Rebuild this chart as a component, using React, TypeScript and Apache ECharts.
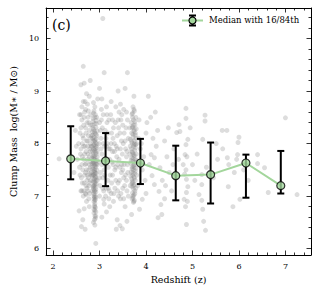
import React, { useEffect, useRef } from "react";
import * as echarts from "echarts";

// Scatter of clumps: [redshift, log mass]
const clumpsColA: number[][] = [
  [2.88,8.62],[2.91,8.55],[2.86,8.48],[2.93,8.44],[2.89,8.38],[2.84,8.35],[2.92,8.31],[2.87,8.27],[2.95,8.24],[2.9,8.2],
  [2.85,8.16],[2.88,8.12],[2.93,8.09],[2.86,8.05],[2.91,8.02],[2.89,7.98],[2.84,7.95],[2.94,7.93],[2.87,7.9],[2.9,7.86],
  [2.92,7.83],[2.86,7.8],[2.89,7.77],[2.95,7.75],[2.83,7.72],[2.88,7.7],[2.91,7.67],[2.86,7.64],[2.93,7.61],[2.89,7.58],
  [2.85,7.55],[2.9,7.52],[2.94,7.5],[2.87,7.47],[2.91,7.44],[2.88,7.41],[2.84,7.38],[2.92,7.35],[2.89,7.32],[2.86,7.29],
  [2.9,7.26],[2.93,7.23],[2.88,7.2],[2.91,7.17],[2.87,7.14],[2.89,7.11],[2.92,7.08],[2.88,7.05],[2.9,7.02],[2.89,6.98],
  [2.91,6.94],[2.88,6.9],[2.9,6.86],[2.89,6.82],[2.91,6.78],[2.9,6.73],[2.88,6.68],[2.92,6.62],[2.89,6.55],[2.87,6.5],
  [2.91,6.58],[2.86,8.42],[2.94,8.15],[2.85,7.85],[2.95,7.6],[2.83,7.4],[2.95,7.3],[2.84,7.1],[2.9,8.7],[2.87,8.78],
  [2.92,7.95],[2.88,7.62],[2.9,7.45],[2.86,7.18],[2.92,6.98],[2.89,8.05],[2.87,7.72],[2.91,7.38],[2.88,7.0],[2.9,6.92],
  [2.87,8.58],[2.9,8.5],[2.93,8.38],[2.86,8.3],[2.89,8.23],[2.92,8.18],[2.85,8.1],[2.9,8.07],[2.94,8.0],[2.87,7.97],
  [2.91,7.91],[2.88,7.88],[2.93,7.8],[2.86,7.76],[2.9,7.73],[2.94,7.68],[2.87,7.65],[2.9,7.6],[2.92,7.56],[2.86,7.52],
  [2.89,7.49],[2.93,7.43],[2.86,7.4],[2.9,7.36],[2.92,7.3],[2.88,7.27],[2.9,7.22],[2.87,7.19],[2.92,7.13],[2.89,7.09],
  [2.88,6.95],[2.9,6.8],[2.92,6.7],[2.88,6.75],[2.9,6.62],[2.9,6.45],[2.94,8.5],[2.85,8.22],[2.95,7.85],[2.84,7.62]
];
const clumpsColB: number[][] = [
  [3.72,8.7],[3.75,8.62],[3.7,8.56],[3.78,8.5],[3.73,8.45],[3.68,8.4],[3.76,8.36],[3.71,8.32],[3.79,8.28],[3.74,8.24],
  [3.69,8.2],[3.77,8.16],[3.72,8.12],[3.66,8.08],[3.75,8.05],[3.7,8.01],[3.78,7.98],[3.73,7.94],[3.68,7.9],[3.76,7.87],
  [3.71,7.83],[3.79,7.8],[3.74,7.76],[3.69,7.73],[3.77,7.7],[3.72,7.66],[3.67,7.63],[3.75,7.6],[3.7,7.56],[3.78,7.53],
  [3.73,7.5],[3.68,7.46],[3.76,7.43],[3.71,7.4],[3.74,7.36],[3.69,7.33],[3.77,7.3],[3.72,7.26],[3.75,7.22],[3.7,7.18],
  [3.73,7.14],[3.76,7.1],[3.71,7.06],[3.74,7.02],[3.72,6.97],[3.75,6.92],[3.73,6.88],[3.74,8.9],[3.71,8.58],[3.77,8.2],
  [3.66,7.95],[3.79,7.68],[3.67,7.38],[3.78,7.15],[3.7,6.95],[3.75,8.0],[3.72,7.8],[3.74,7.55],[3.7,7.28],[3.73,8.35],
  [3.74,8.65],[3.71,8.5],[3.76,8.42],[3.7,8.3],[3.75,8.27],[3.72,8.18],[3.78,8.1],[3.69,8.04],[3.74,7.97],[3.77,7.92],
  [3.7,7.85],[3.75,7.78],[3.72,7.72],[3.68,7.68],[3.76,7.64],[3.73,7.58],[3.7,7.52],[3.77,7.48],[3.72,7.44],[3.75,7.34],
  [3.7,7.24],[3.73,7.2],[3.76,7.05],[3.72,7.0],[3.74,6.9],[3.65,8.3],[3.8,8.0],[3.65,7.8],[3.8,7.4],[3.66,7.2]
];
const clumpsLowZ: number[][] = [
  [2.58,8.2],[2.62,8.45],[2.65,8.1],[2.68,8.6],[2.7,8.3],[2.72,8.05],[2.75,8.5],[2.78,8.25],[2.8,8.0],[2.6,7.9],
  [2.63,7.75],[2.66,7.95],[2.69,7.6],[2.71,7.85],[2.74,7.7],[2.77,7.5],[2.79,7.9],[2.81,7.65],[2.57,7.55],[2.61,7.35],
  [2.64,7.5],[2.67,7.25],[2.7,7.45],[2.73,7.15],[2.76,7.35],[2.79,7.05],[2.81,7.3],[2.6,7.1],[2.65,7.0],[2.72,6.9],
  [2.78,6.8],[2.8,7.55],[2.76,8.15],[2.73,8.4],[2.69,8.8],[2.66,8.35],[2.62,8.7],[2.75,7.95],[2.78,7.75],[2.55,8.0],
  [2.52,7.7],[2.68,7.8],[2.74,7.4],[2.8,8.35],[2.63,8.0],[2.7,7.05],[2.77,7.2],[2.82,7.95],[2.82,8.15],[2.57,8.55],
  [2.67,9.15],[2.6,9.12],[2.65,9.47],[2.8,9.2],[2.72,8.95],[2.78,8.9],[2.64,6.55],[2.56,6.72],[2.67,6.76],[2.69,6.37],
  [2.61,6.42],[2.71,7.03],[2.62,7.1],[2.13,7.71],[2.45,7.45],[2.5,7.95],[2.48,8.25],[2.76,8.62],[2.71,7.62],[2.79,7.42],
  [2.6,8.3],[2.64,8.15],[2.67,8.5],[2.71,8.2],[2.74,8.05],[2.77,8.4],[2.81,8.1],[2.59,7.8],[2.62,7.6],[2.66,7.7],
  [2.69,7.95],[2.72,7.5],[2.75,7.8],[2.78,7.6],[2.8,7.85],[2.58,7.4],[2.63,7.25],[2.68,7.4],[2.71,7.2],[2.75,7.1],
  [2.79,7.25],[2.66,7.1],[2.73,7.3],[2.77,6.95],[2.82,7.45],[2.7,8.65],[2.65,8.8],[2.74,8.75],[2.6,8.55],[2.81,8.55]
];
const clumpsMidZ: number[][] = [
  [3.0,8.4],[3.03,8.1],[3.05,7.8],[3.08,8.55],[3.1,7.5],[3.12,8.25],[3.15,7.95],[3.18,7.3],[3.2,8.45],[3.22,7.7],
  [3.25,8.0],[3.28,7.4],[3.3,8.3],[3.32,7.85],[3.35,7.55],[3.38,8.15],[3.4,7.25],[3.42,8.6],[3.45,7.9],[3.48,7.6],
  [3.5,8.35],[3.52,7.35],[3.55,8.05],[3.58,7.75],[3.6,8.45],[3.61,7.45],[2.98,7.65],[3.01,7.2],[3.04,8.65],[3.07,7.35],
  [3.11,7.95],[3.14,7.15],[3.17,8.0],[3.21,7.1],[3.24,8.55],[3.27,7.65],[3.31,7.05],[3.34,8.4],[3.37,7.75],[3.41,7.0],
  [3.44,8.2],[3.47,7.45],[3.51,8.0],[3.54,7.2],[3.57,8.3],[3.6,7.6],[2.99,8.0],[3.02,7.45],[3.06,8.3],[3.09,7.1],
  [3.13,7.7],[3.16,8.4],[3.19,7.55],[3.23,7.9],[3.26,7.25],[3.29,8.1],[3.33,7.5],[3.36,7.95],[3.39,7.6],[3.43,7.3],
  [3.46,8.45],[3.49,7.8],[3.53,7.6],[3.56,7.9],[3.59,7.1],[3.0,7.0],[3.1,6.85],[3.15,6.7],[3.09,6.94],[3.3,6.9],
  [3.38,6.55],[3.44,6.44],[3.36,6.37],[3.49,6.38],[3.59,6.52],[3.55,6.8],[3.45,6.95],[3.22,6.8],[3.05,8.85],[3.0,9.05],
  [3.1,9.35],[3.07,10.38],[3.4,9.0],[3.55,9.05],[3.6,9.35],[3.25,8.8],[3.45,8.75],[3.15,8.7],[3.35,8.7],[3.52,8.65],
  [2.92,6.1],[2.96,8.85],[3.2,6.95],[3.05,6.6],[3.18,8.2],[3.28,7.85],[3.42,7.7],[3.12,7.6],[3.5,7.15],[3.03,7.9],
  [3.02,8.25],[3.05,7.6],[3.08,8.0],[3.11,7.4],[3.14,8.1],[3.17,7.7],[3.2,7.9],[3.23,7.4],[3.26,8.2],[3.29,7.6],
  [3.32,8.0],[3.35,7.3],[3.38,7.9],[3.41,8.3],[3.44,7.55],[3.47,8.05],[3.5,7.5],[3.53,8.2],[3.56,7.4],[3.59,7.85],
  [3.62,8.1],[3.0,7.35],[3.07,7.15],[3.13,7.0],[3.19,7.15],[3.25,7.05],[3.33,7.15],[3.39,7.1],[3.46,7.05],[3.52,6.95],
  [3.58,7.3],[3.62,7.0],[3.04,8.45],[3.16,8.55],[3.28,8.45],[3.4,8.45],[3.48,8.55],[3.58,8.6]
];
const clumpsHighZ: number[][] = [
  [3.85,8.45],[3.9,8.0],[3.95,7.75],[4.0,8.2],[4.05,8.9],[3.92,7.5],[4.07,7.6],[4.11,7.79],[4.18,7.73],[4.13,7.39],
  [4.18,7.22],[4.28,7.09],[4.32,6.84],[4.34,6.65],[4.26,6.59],[3.86,6.75],[3.92,6.94],[3.69,6.65],[3.82,7.2],[3.88,7.9],
  [4.02,8.4],[4.15,8.1],[4.22,7.95],[4.3,7.54],[4.35,7.3],[4.4,8.05],[4.45,7.75],[4.5,7.45],[4.55,7.1],[4.4,6.95],
  [4.25,8.25],[4.1,8.5],[3.84,8.1],[3.98,7.3],[4.48,8.3],[4.6,7.9],[4.2,8.6],[4.0,7.05],[4.58,7.6],[4.42,7.2],
  [4.86,8.67],[4.86,8.48],[5.27,8.54],[5.27,8.43],[4.71,8.36],[4.66,8.21],[4.73,8.23],[4.9,8.08],[4.86,7.98],[5.22,8.08],
  [5.64,8.25],[5.74,8.25],[6.0,8.12],[5.98,8.02],[5.51,8.0],[4.84,7.79],[4.88,7.75],[4.8,7.6],[4.86,7.5],[4.83,7.42],
  [4.87,7.32],[4.9,7.18],[4.87,7.07],[4.82,6.94],[4.85,6.8],[4.87,6.46],[5.2,6.92],[5.22,6.75],[5.24,6.52],[5.28,6.35],
  [5.54,7.7],[5.75,7.73],[5.78,7.6],[5.97,7.79],[5.95,7.7],[6.4,7.79],[6.4,7.62],[6.55,7.54],[6.63,7.07],[6.02,6.94],
  [5.87,6.8],[5.77,7.18],[5.2,7.22],[5.2,7.41],[5.14,7.03],[4.89,6.9],[7.25,7.03],[7.0,8.49],[4.7,7.7],[5.0,7.6],
  [5.1,7.8],[5.3,7.55],[5.45,7.35],[5.05,7.3],[6.1,7.5],[6.2,7.3],[5.9,7.45],[4.95,8.3],[5.65,7.9]
];

// Binned medians with 16th / 84th percentiles
const medianZ: number[] = [2.38, 3.13, 3.88, 4.64, 5.39, 6.15, 6.90];
const medianMass: number[] = [7.71, 7.67, 7.63, 7.39, 7.41, 7.63, 7.20];
const p16Mass: number[] = [7.32, 7.19, 7.23, 6.92, 6.86, 6.97, 7.05];
const p84Mass: number[] = [8.33, 8.20, 8.09, 7.96, 8.02, 7.79, 7.86];

// Ticks
const xMajorTicks: number[] = [2, 3, 4, 5, 6, 7];
const xMinorTicks: number[] = [2.2,2.4,2.6,2.8,3.2,3.4,3.6,3.8,4.2,4.4,4.6,4.8,5.2,5.4,5.6,5.8,6.2,6.4,6.6,6.8,7.2,7.4];
const yMajorTicks: number[] = [6, 7, 8, 9, 10];
const yMinorTicks: number[] = [6.2,6.4,6.6,6.8,7.2,7.4,7.6,7.8,8.2,8.4,8.6,8.8,9.2,9.4,9.6,9.8,10.2,10.4];

const X_MIN = 1.85, X_MAX = 7.55, Y_MIN = 5.88, Y_MAX = 10.58;
const FONT = "'DejaVu Serif', 'Liberation Serif', serif";
const GREEN = "#a3d69c";

export default function App() {
  const ref = useRef<HTMLDivElement>(null);
  useEffect(() => {
    if (!ref.current) return;
    const chart = echarts.init(ref.current, null, { renderer: "svg" });

    const mkX = (pos: string, ticks: number[], len: number, labels: boolean, line: boolean) => ({
      type: "value", position: pos, min: X_MIN, max: X_MAX,
      axisLine: { show: line, onZero: false, lineStyle: { color: "#000", width: 1 } },
      axisTick: { show: true, inside: true, length: len, customValues: ticks, lineStyle: { color: "#000", width: 0.8 } },
      axisLabel: labels
        ? { show: true, customValues: xMajorTicks, fontFamily: FONT, fontSize: 8, color: "#000", margin: 7, formatter: (v: number) => String(v) }
        : { show: false },
      splitLine: { show: false },
    });
    const mkY = (pos: string, ticks: number[], len: number, labels: boolean, line: boolean) => ({
      type: "value", position: pos, min: Y_MIN, max: Y_MAX,
      axisLine: { show: line, onZero: false, lineStyle: { color: "#000", width: 1 } },
      axisTick: { show: true, inside: true, length: len, customValues: ticks, lineStyle: { color: "#000", width: 0.8 } },
      axisLabel: labels
        ? { show: true, customValues: yMajorTicks, fontFamily: FONT, fontSize: 8, color: "#000", margin: 7, formatter: (v: number) => String(v) }
        : { show: false },
      splitLine: { show: false },
    });

    const xAxes: any[] = [
      { ...mkX("bottom", xMajorTicks, 4.5, true, true), name: "Redshift (z)", nameLocation: "middle", nameGap: 19,
        nameTextStyle: { fontFamily: FONT, fontSize: 9.5, color: "#000" } },
      mkX("bottom", xMinorTicks, 2.5, false, false),
      mkX("top", xMajorTicks, 4.5, false, true),
      mkX("top", xMinorTicks, 2.5, false, false),
    ];
    const yAxes: any[] = [
      { ...mkY("left", yMajorTicks, 4.5, true, true), name: "Clump Mass  log(M\u2217 / M\u2299)", nameLocation: "middle", nameGap: 21,
        nameTextStyle: { fontFamily: FONT, fontSize: 9.5, color: "#000" } },
      mkY("left", yMinorTicks, 2.5, false, false),
      mkY("right", yMajorTicks, 4.5, false, true),
      mkY("right", yMinorTicks, 2.5, false, false),
    ];

    const allClumps = [...clumpsColA, ...clumpsColB, ...clumpsLowZ, ...clumpsMidZ, ...clumpsHighZ];
    const errData = medianZ.map((z, i) => [z, p16Mass[i], p84Mass[i]]);

    chart.setOption({
      animation: false,
      grid: { left: 39, right: 8, top: 8, bottom: 39, containLabel: false },
      xAxis: xAxes,
      yAxis: yAxes,
      series: [
        {
          type: "scatter", data: allClumps, symbolSize: 5, xAxisIndex: 0, yAxisIndex: 0,
          itemStyle: { color: "rgba(125,125,125,0.33)" }, silent: true, z: 1,
        },
        {
          type: "line", data: medianZ.map((z, i) => [z, medianMass[i]]), xAxisIndex: 0, yAxisIndex: 0,
          showSymbol: false, lineStyle: { color: GREEN, width: 2 }, z: 2, silent: true,
        },
        {
          type: "custom", data: errData, xAxisIndex: 0, yAxisIndex: 0, z: 3, silent: true,
          renderItem: (params: any, api: any) => {
            const lo = api.coord([api.value(0), api.value(1)]);
            const hi = api.coord([api.value(0), api.value(2)]);
            const hw = 3.5;
            const st = { stroke: "#000", lineWidth: 2 };
            return {
              type: "group",
              children: [
                { type: "line", shape: { x1: lo[0], y1: lo[1], x2: hi[0], y2: hi[1] }, style: st },
                { type: "line", shape: { x1: lo[0] - hw, y1: lo[1], x2: lo[0] + hw, y2: lo[1] }, style: st },
                { type: "line", shape: { x1: hi[0] - hw, y1: hi[1], x2: hi[0] + hw, y2: hi[1] }, style: st },
              ],
            };
          },
        },
        {
          type: "scatter", data: medianZ.map((z, i) => [z, medianMass[i]]), xAxisIndex: 0, yAxisIndex: 0,
          symbol: "circle", symbolSize: 8, z: 4, silent: true,
          itemStyle: { color: GREEN, borderColor: "#000", borderWidth: 1.2 },
        },
      ],
      graphic: [
        { type: "text", left: 52, top: 18, style: { text: "(c)", fontFamily: FONT, fontSize: 14, fill: "#000" } },
        { type: "line", shape: { x1: 182, y1: 20.5, x2: 203, y2: 20.5 }, style: { stroke: GREEN, lineWidth: 2 } },
        { type: "line", shape: { x1: 192.5, y1: 15.5, x2: 192.5, y2: 25.5 }, style: { stroke: "#000", lineWidth: 2 } },
        { type: "line", shape: { x1: 189, y1: 15.5, x2: 196, y2: 15.5 }, style: { stroke: "#000", lineWidth: 2 } },
        { type: "line", shape: { x1: 189, y1: 25.5, x2: 196, y2: 25.5 }, style: { stroke: "#000", lineWidth: 2 } },
        { type: "circle", shape: { cx: 192.5, cy: 20.5, r: 3.5 }, style: { fill: GREEN, stroke: "#000", lineWidth: 1.2 } },
        { type: "text", left: 209, top: 15.5, style: { text: "Median with 16/84th", fontFamily: FONT, fontSize: 8.5, fill: "#000" } },
      ],
    });
    return () => chart.dispose();
  }, []);
  return <div ref={ref} style={{ width: 319, height: 294, position: "absolute", left: 0, top: 0 }} />;
}
